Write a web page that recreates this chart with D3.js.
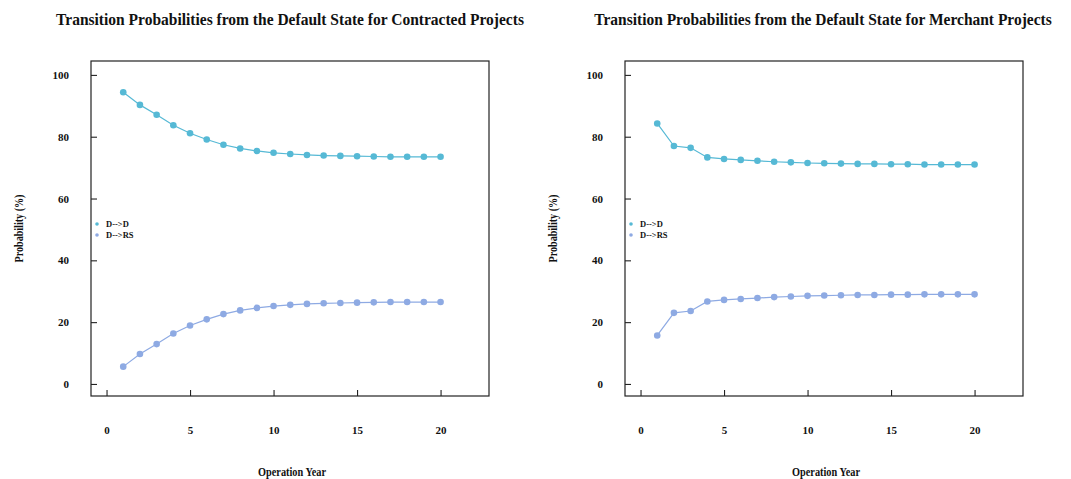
<!DOCTYPE html>
<html>
<head>
<meta charset="utf-8">
<script src="https://cdn.jsdelivr.net/npm/d3@7"></script>
<style>
  html, body { margin: 0; padding: 0; background: #fff; }
  text { font-family: "Liberation Serif", "DejaVu Serif", serif; fill: #111; }
</style>
</head>
<body>
<svg id="chart" width="1071" height="479"></svg>
<script>
// Operation years 1..20
const years = [1,2,3,4,5,6,7,8,9,10,11,12,13,14,15,16,17,18,19,20];

// Contracted projects: transition probabilities (%) from the default state
const contractedDD  = [94.4,90.3,87.1,83.7,81.1,79.1,77.4,76.2,75.4,74.8,74.4,74.1,73.9,73.8,73.7,73.6,73.5,73.5,73.5,73.5];
const contractedDRS = [5.6,9.7,12.9,16.3,18.9,20.9,22.6,23.8,24.6,25.2,25.6,25.9,26.1,26.2,26.3,26.4,26.5,26.5,26.5,26.5];

// Merchant projects: transition probabilities (%) from the default state
const merchantDD  = [84.3,77.0,76.4,73.3,72.8,72.5,72.2,71.9,71.7,71.5,71.4,71.3,71.2,71.2,71.1,71.1,71.0,71.0,71.0,71.0];
const merchantDRS = [15.7,23.0,23.6,26.7,27.2,27.5,27.8,28.1,28.3,28.5,28.6,28.7,28.8,28.8,28.9,28.9,29.0,29.0,29.0,29.0];

const seriesNames = ["D-->D", "D-->RS"];
const seriesColors = ["#56b9d5", "#8eaae3"];

const xTicks = [0, 5, 10, 15, 20];
const yTicks = [0, 20, 40, 60, 80, 100];

const titles = [
  "Transition Probabilities from the Default State for Contracted Projects",
  "Transition Probabilities from the Default State for Merchant Projects"
];
const xTitle = "Operation Year";
const yTitle = "Probability (%)";

const svg = d3.select("#chart");

// Draws a text horizontally condensed so that it spans the given width
function condensedText(parent, cx, cy, str, size, width, rotate) {
  const t = parent.append("text")
    .attr("text-anchor", "middle").attr("font-size", size).attr("font-weight", "bold")
    .text(str);
  const natural = t.node().getComputedTextLength();
  const k = Math.min(1, width / natural);
  t.attr("transform", `translate(${cx},${cy})${rotate ? " rotate(-90)" : ""} scale(${k},1)`);
  return t;
}

function drawPanel(left, title, titleX, titleW, seriesData) {
  const frame = { x0: left, x1: left + 398, y0: 61, y1: 396 };
  const g = svg.append("g");

  const x = d3.scaleLinear().domain([-0.93, 22.9]).range([frame.x0, frame.x1]);
  const y = d3.scaleLinear().domain([-3.9, 104.5]).range([frame.y1, frame.y0]);

  // title
  condensedText(g, titleX, 25, title, 17, titleW, false);

  // frame
  g.append("rect")
    .attr("x", frame.x0).attr("y", frame.y0)
    .attr("width", frame.x1 - frame.x0).attr("height", frame.y1 - frame.y0)
    .attr("fill", "none").attr("stroke", "#222").attr("stroke-width", 1.2);

  // y axis: inward ticks, labels set far to the left
  const yAxis = d3.axisLeft(y).tickValues(yTicks).tickSize(-6).tickPadding(22).tickSizeOuter(0);
  const ya = g.append("g").attr("transform", `translate(${frame.x0},0)`).call(yAxis);
  ya.select(".domain").remove();
  ya.selectAll(".tick line").attr("stroke", "#222").attr("stroke-width", 1.1);
  ya.selectAll(".tick text").attr("font-size", 11).attr("font-weight", "bold")
    .attr("font-family", "Liberation Serif").attr("fill", "#111");

  // x axis: inward ticks, labels well below the frame
  const xAxis = d3.axisBottom(x).tickValues(xTicks).tickSize(-6).tickPadding(30).tickSizeOuter(0);
  const xa = g.append("g").attr("transform", `translate(0,${frame.y1})`).call(xAxis);
  xa.select(".domain").remove();
  xa.selectAll(".tick line").attr("stroke", "#222").attr("stroke-width", 1.1);
  xa.selectAll(".tick text").attr("font-size", 11).attr("font-weight", "bold")
    .attr("font-family", "Liberation Serif").attr("fill", "#111");

  // axis titles
  condensedText(g, (frame.x0 + frame.x1) / 2 + 2, 476, xTitle, 11.5, 68, false);
  condensedText(g, frame.x0 - 68, (frame.y0 + frame.y1) / 2, yTitle, 11.5, 68, true);

  // series lines and points
  const line = d3.line().x((d, i) => x(years[i])).y(d => y(d));
  seriesData.forEach((vals, s) => {
    g.append("path").datum(vals)
      .attr("d", line).attr("fill", "none")
      .attr("stroke", seriesColors[s]).attr("stroke-width", 1.2);
    g.append("g").selectAll("circle").data(vals).join("circle")
      .attr("cx", (d, i) => x(years[i])).attr("cy", d => y(d))
      .attr("r", 3.3).attr("fill", seriesColors[s]);
  });

  // legend
  const lg = g.append("g").attr("transform", `translate(${frame.x0 + 6},224)`);
  seriesNames.forEach((name, s) => {
    lg.append("circle").attr("cx", 0).attr("cy", s * 11).attr("r", 1.8).attr("fill", seriesColors[s]);
    lg.append("text").attr("x", 9).attr("y", s * 11 + 3).attr("font-size", 8.5)
      .attr("font-weight", "bold").text(name);
  });
}

drawPanel(91, titles[0], 290, 468, [contractedDD, contractedDRS]);
drawPanel(625, titles[1], 823, 458, [merchantDD, merchantDRS]);
</script>
</body>
</html>
